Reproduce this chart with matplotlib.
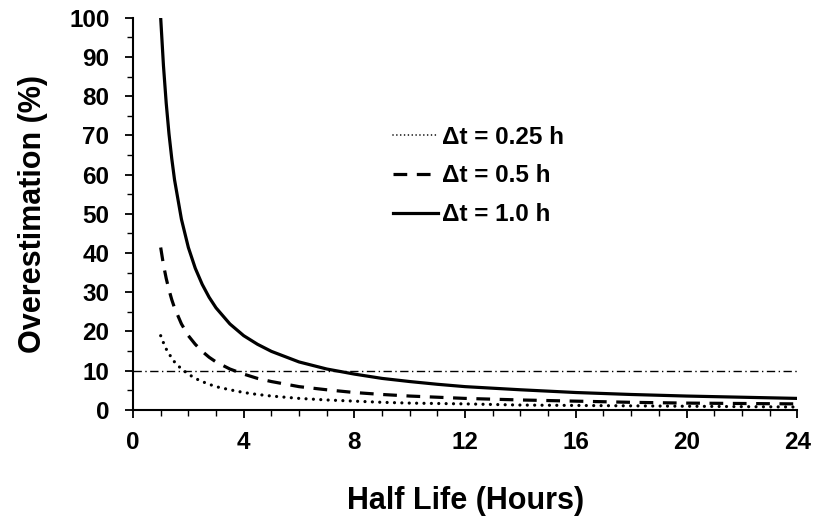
import numpy as np
import matplotlib.pyplot as plt
from matplotlib.ticker import MultipleLocator

# half life (hours) and overestimation (%)
half_life = [1, 1.1, 1.2, 1.3, 1.4, 1.5, 1.75, 2, 2.25, 2.5, 2.75, 3, 3.5, 4,
             4.5, 5, 6, 7, 8, 9, 10, 11, 12, 14, 16, 18, 20, 22, 24]
over_025 = [18.9, 17.1, 15.5, 14.3, 13.2, 12.2, 10.4, 9.1, 8.0, 7.2, 6.5, 5.9,
            5.1, 4.4, 3.9, 3.5, 2.9, 2.5, 2.2, 1.9, 1.7, 1.6, 1.5, 1.2, 1.1,
            1.0, 0.9, 0.8, 0.7]
over_05 = [41.4, 37.0, 33.5, 30.6, 28.1, 26.0, 21.9, 18.9, 16.7, 14.9, 13.4,
           12.2, 10.4, 9.1, 8.0, 7.2, 5.9, 5.1, 4.4, 3.9, 3.5, 3.2, 2.9, 2.5,
           2.2, 1.9, 1.7, 1.6, 1.5]
over_10 = [100.0, 87.8, 78.2, 70.4, 64.1, 58.7, 48.6, 41.4, 36.1, 32.0, 28.7,
           26.0, 21.9, 18.9, 16.7, 14.9, 12.2, 10.4, 9.1, 8.0, 7.2, 6.5, 5.9,
           5.1, 4.4, 3.9, 3.5, 3.2, 2.9]
threshold = 10
labels = ['\u0394t = 0.25 h', '\u0394t = 0.5 h', '\u0394t = 1.0 h']

plt.rcParams['font.family'] = ['Liberation Sans', 'DejaVu Sans']
plt.rcParams['font.weight'] = 'bold'

fig = plt.figure(figsize=(8.16, 5.24), dpi=100)
ax = fig.add_axes([0.163, 0.218, 0.814, 0.748])

ax.plot(half_life, over_025, color='black', lw=2.3, linestyle=(0, (0.01, 2.3)),
        dash_capstyle='round', label=labels[0])
ax.plot(half_life, over_05, color='black', lw=2.3, linestyle=(0, (4.3, 3.0)),
        label=labels[1])
ax.plot(half_life, over_10, color='black', lw=2.3, label=labels[2])
ax.plot([0, 24], [threshold, threshold], color='black', lw=1.0,
        linestyle=(0, (6, 2.5, 1, 2.5)))

ax.set_xlim(0, 24)
ax.set_ylim(0, 100)
ax.xaxis.set_major_locator(MultipleLocator(4))
ax.xaxis.set_minor_locator(MultipleLocator(1))
ax.yaxis.set_major_locator(MultipleLocator(10))
ax.yaxis.set_minor_locator(MultipleLocator(5))
ax.tick_params(which='major', length=6, width=1.3, labelsize=17.5, direction='out')
ax.tick_params(which='minor', length=4, width=1.0, direction='out')
ax.tick_params(axis='x', pad=9)
ax.tick_params(axis='y', pad=11)

for s in ['top', 'right']:
    ax.spines[s].set_visible(False)
for s in ['left', 'bottom']:
    ax.spines[s].set_linewidth(1.5)

ax.set_xlabel('Half Life (Hours)', fontsize=22, fontweight='bold', labelpad=23)
ax.set_ylabel('Overestimation (%)', fontsize=22, fontweight='bold', labelpad=15)

leg = ax.legend(loc='upper left', bbox_to_anchor=(0.392, 0.725), frameon=False,
                handlelength=1.85, handletextpad=0.16, labelspacing=0.65,
                borderaxespad=0, borderpad=0,
                prop={'weight': 'bold', 'size': 17.5})
leg.get_lines()[0].set_linewidth(1.2)

fig.savefig('out.png', dpi=100)
